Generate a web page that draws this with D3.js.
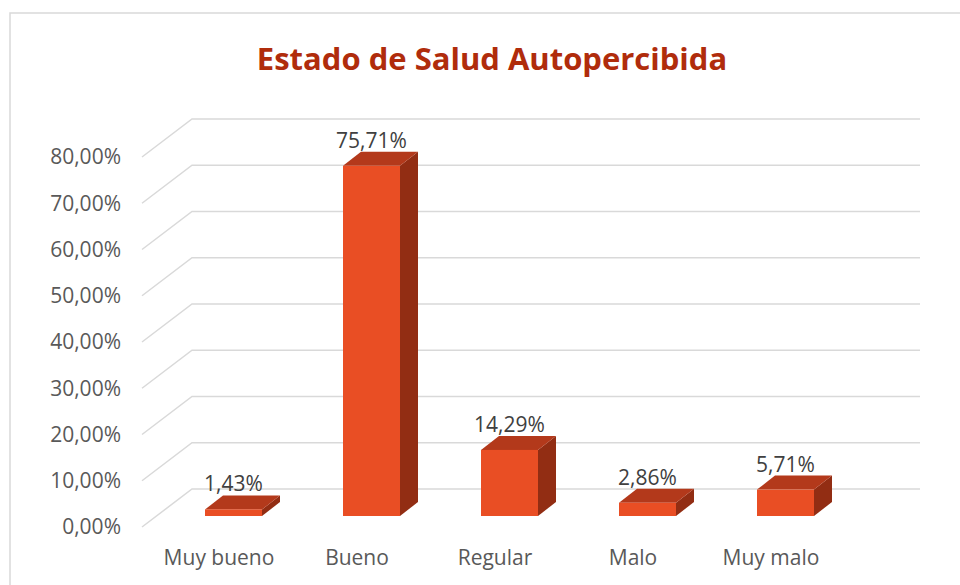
<!DOCTYPE html>
<html><head><meta charset="utf-8">
<script src="https://cdn.jsdelivr.net/npm/d3@7/dist/d3.min.js"></script>
<style>html,body{margin:0;padding:0;background:#fff;}svg{display:block;}</style>
</head><body>
<svg id="chart" width="960" height="585"></svg>
<script>
const categories = ["Muy bueno", "Bueno", "Regular", "Malo", "Muy malo"];
const values = [1.43, 75.71, 14.29, 2.86, 5.71];
const valueLabels = ["1,43%", "75,71%", "14,29%", "2,86%", "5,71%"];
const yTicks = [0, 10, 20, 30, 40, 50, 60, 70, 80];
const yTickLabels = ["0,00%", "10,00%", "20,00%", "30,00%", "40,00%", "50,00%", "60,00%", "70,00%", "80,00%"];
const title = "Estado de Salud Autopercibida";

const svg = d3.select("#chart");
const font = "'Open Sans', sans-serif";

// frame
svg.append("rect").attr("x", 10).attr("y", 13).attr("width", 1000).attr("height", 700)
  .attr("fill", "none").attr("stroke", "#d9d9d9").attr("stroke-width", 1.5);

// title
svg.append("text").attr("x", 492).attr("y", 70).attr("text-anchor", "middle")
  .attr("font-family", font).attr("font-weight", "bold").attr("font-size", 31)
  .attr("fill", "#b02c0c").text(title);

// scales (front plane of the floor)
const y = d3.scaleLinear().domain([0, 80]).range([527, 157]);
const x = d3.scaleBand().domain(categories).range([150, 840]).paddingInner(0).paddingOuter(0);

// 3D offsets
const DX = 50, DY = -38;         // full floor depth
const BFX = 14.5, BFY = -11;     // bar front plane offset
const BDX = 18, BDY = -14;       // bar depth
const barW = 57;
const xLeft = 142, xRight = 920;

// gridlines
const grid = svg.append("g").attr("fill", "none").attr("stroke", "#d9d9d9").attr("stroke-width", 1.5);
yTicks.forEach(t => {
  const yf = y(t);
  grid.append("path").attr("d", `M${xLeft},${yf}L${xLeft + DX},${yf + DY}L${xRight},${yf + DY}`);
});

// y tick labels
svg.append("g").selectAll("text").data(yTicks).join("text")
  .attr("x", 121).attr("y", d => y(d)).attr("dy", "0.35em").attr("text-anchor", "end")
  .attr("font-family", font).attr("font-size", 21).attr("fill", "#595959")
  .text((d, i) => yTickLabels[i]);

// category labels
svg.append("g").selectAll("text").data(categories).join("text")
  .attr("x", d => x(d) + x.bandwidth() / 2).attr("y", 565).attr("text-anchor", "middle")
  .attr("font-family", font).attr("font-size", 21).attr("fill", "#595959")
  .text(d => d);

// bars
const bars = svg.append("g");
categories.forEach((c, i) => {
  const v = values[i];
  const cx = x(c) + x.bandwidth() / 2 + BFX;
  const x0 = cx - barW / 2, x1 = cx + barW / 2;
  const yb = y(0) + BFY, yt = y(v) + BFY;
  const g = bars.append("g");
  g.append("path").attr("fill", "#922d13")
    .attr("d", `M${x1},${yt}L${x1 + BDX},${yt + BDY}L${x1 + BDX},${yb + BDY}L${x1},${yb}Z`);
  g.append("path").attr("fill", "#b3391b")
    .attr("d", `M${x0},${yt}L${x1},${yt}L${x1 + BDX},${yt + BDY}L${x0 + BDX},${yt + BDY}Z`);
  g.append("rect").attr("x", x0).attr("y", yt).attr("width", barW).attr("height", yb - yt)
    .attr("fill", "#e94e24");
  g.append("text").attr("x", cx).attr("y", yt + BDY - 4).attr("text-anchor", "middle")
    .attr("font-family", font).attr("font-size", 21).attr("fill", "#404040")
    .text(valueLabels[i]);
});
</script>
</body></html>
